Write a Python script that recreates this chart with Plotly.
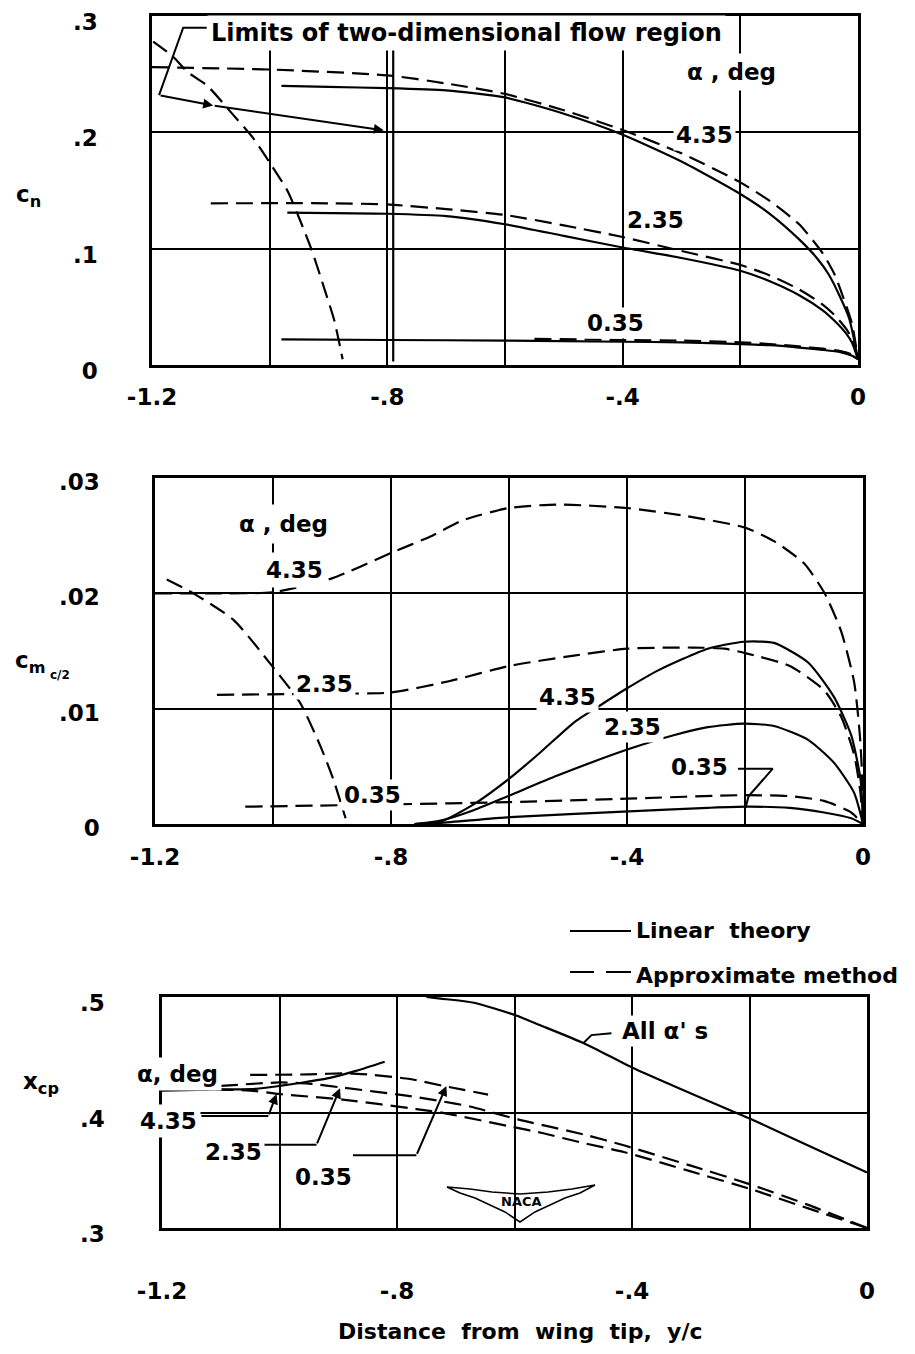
import plotly.graph_objects as go

# ---------------- data ----------------
# Panel 1: c_n vs y/c
cn_lin_435_x = [-0.98, -0.9, -0.8, -0.7, -0.6, -0.5, -0.4, -0.3, -0.2, -0.15, -0.1, -0.07, -0.05, -0.03, -0.015, 0.0]
cn_lin_435_y = [0.240, 0.239, 0.238, 0.236, 0.230, 0.216, 0.198, 0.175, 0.147, 0.130, 0.108, 0.092, 0.078, 0.058, 0.040, 0.005]
cn_app_435_x = [-1.2, -1.0, -0.8, -0.7, -0.6, -0.5, -0.4, -0.3, -0.2, -0.15, -0.1, -0.06, -0.04, -0.025, -0.01, 0.0]
cn_app_435_y = [0.256, 0.254, 0.249, 0.242, 0.233, 0.219, 0.202, 0.182, 0.157, 0.141, 0.121, 0.096, 0.078, 0.058, 0.035, 0.005]
cn_lin_235_x = [-0.97, -0.8, -0.7, -0.6, -0.5, -0.4, -0.3, -0.2, -0.15, -0.1, -0.06, -0.04, -0.02, -0.01, 0.0]
cn_lin_235_y = [0.131, 0.130, 0.128, 0.121, 0.111, 0.101, 0.092, 0.081, 0.072, 0.060, 0.047, 0.038, 0.027, 0.019, 0.005]
cn_app_235_x = [-1.1, -0.9, -0.8, -0.7, -0.6, -0.5, -0.4, -0.3, -0.2, -0.15, -0.1, -0.06, -0.04, -0.02, -0.01, 0.0]
cn_app_235_y = [0.139, 0.139, 0.138, 0.134, 0.129, 0.120, 0.110, 0.098, 0.086, 0.077, 0.065, 0.052, 0.043, 0.031, 0.022, 0.005]
cn_lin_035_x = [-0.98, -0.8, -0.6, -0.4, -0.3, -0.2, -0.15, -0.1, -0.06, -0.03, -0.01, 0.0]
cn_lin_035_y = [0.022, 0.0215, 0.021, 0.020, 0.0195, 0.018, 0.017, 0.015, 0.013, 0.011, 0.008, 0.005]
cn_app_035_x = [-0.55, -0.4, -0.3, -0.2, -0.15, -0.1, -0.06, -0.03, -0.01, 0.0]
cn_app_035_y = [0.0225, 0.0215, 0.021, 0.0195, 0.018, 0.016, 0.014, 0.012, 0.009, 0.005]
cn_limit_x = [-1.198, -1.164, -1.14, -1.106, -1.062, -1.028, -1.0, -0.97, -0.948, -0.928, -0.906, -0.89, -0.876]
cn_limit_y = [0.278, 0.265, 0.252, 0.240, 0.215, 0.195, 0.174, 0.150, 0.124, 0.098, 0.064, 0.038, 0.005]
cn_limit2_x = [-0.79, -0.79]
cn_limit2_y = [0.003, 0.275]

# Panel 2: c_m(c/2) vs y/c
cm_app_435_x = [-1.2, -1.1, -1.0, -0.9, -0.8, -0.73, -0.68, -0.6, -0.52, -0.4, -0.3, -0.2, -0.15, -0.1, -0.065, -0.037, -0.015, -0.005, -0.001, 0.0]
cm_app_435_y = [0.0200, 0.0200, 0.0201, 0.0213, 0.0235, 0.0250, 0.0263, 0.0274, 0.0277, 0.0274, 0.0267, 0.0257, 0.0245, 0.0226, 0.0200, 0.0167, 0.0123, 0.0075, 0.0035, 0.0]
cm_app_235_x = [-1.095, -0.9, -0.8, -0.7, -0.6, -0.49, -0.4, -0.29, -0.235, -0.198, -0.124, -0.066, -0.037, -0.015, -0.005, 0.0]
cm_app_235_y = [0.0112, 0.0113, 0.0114, 0.0124, 0.0137, 0.0146, 0.0152, 0.0153, 0.0152, 0.0148, 0.0137, 0.0116, 0.0093, 0.0060, 0.0030, 0.0]
cm_app_035_x = [-1.047, -0.8, -0.6, -0.4, -0.2, -0.12, -0.066, -0.02, 0.0]
cm_app_035_y = [0.0015, 0.0017, 0.0019, 0.0022, 0.0025, 0.0024, 0.0020, 0.0010, 0.0]
cm_lin_435_x = [-0.76, -0.716, -0.66, -0.598, -0.547, -0.49, -0.445, -0.402, -0.348, -0.263, -0.202, -0.151, -0.093, -0.049, -0.02, -0.004, 0.0]
cm_lin_435_y = [0.0, 0.0002, 0.0017, 0.0040, 0.0062, 0.0088, 0.0103, 0.0117, 0.0133, 0.0152, 0.0158, 0.0157, 0.0140, 0.0110, 0.0077, 0.0038, 0.0]
cm_lin_235_x = [-0.76, -0.716, -0.66, -0.598, -0.518, -0.397, -0.321, -0.263, -0.202, -0.151, -0.093, -0.049, -0.015, 0.0]
cm_lin_235_y = [0.0, 0.0003, 0.0012, 0.0025, 0.0042, 0.0065, 0.0077, 0.0084, 0.0087, 0.0085, 0.0073, 0.0053, 0.0027, 0.0]
cm_lin_035_x = [-0.76, -0.716, -0.598, -0.397, -0.263, -0.198, -0.124, -0.066, -0.02, 0.0]
cm_lin_035_y = [0.0, 0.0001, 0.0006, 0.0011, 0.0014, 0.0015, 0.0014, 0.0010, 0.0005, 0.0]
cm_limit_x = [-1.18, -1.135, -1.067, -1.0, -0.954, -0.92, -0.898, -0.877]
cm_limit_y = [0.0212, 0.0200, 0.0177, 0.0136, 0.0105, 0.0068, 0.0039, 0.0005]

# Panel 3: x_cp vs y/c
xcp_lin_all_x = [-0.75, -0.726, -0.669, -0.6, -0.556, -0.482, -0.4, -0.329, -0.233, -0.196, -0.103, 0.0]
xcp_lin_all_y = [0.500, 0.4986, 0.495, 0.4845, 0.4755, 0.460, 0.439, 0.423, 0.402, 0.394, 0.372, 0.348]
xcp_lin_tip_x = [-1.2, -1.1, -1.04, -1.0, -0.96, -0.914, -0.87, -0.821]
xcp_lin_tip_y = [0.419, 0.420, 0.4205, 0.423, 0.426, 0.430, 0.436, 0.444]
xcp_app_035_x = [-1.05, -0.95, -0.883, -0.84, -0.778, -0.721, -0.645]
xcp_app_035_y = [0.4325, 0.433, 0.434, 0.4325, 0.429, 0.423, 0.4155]
xcp_app_235_x = [-1.1, -1.0, -0.95, -0.892, -0.784, -0.727, -0.676, -0.594, -0.482, -0.414, -0.3, -0.2, -0.1, 0.0]
xcp_app_235_y = [0.423, 0.426, 0.425, 0.4215, 0.4146, 0.410, 0.4052, 0.394, 0.381, 0.3716, 0.354, 0.338, 0.320, 0.300]
xcp_app_435_x = [-1.15, -1.05, -1.0, -0.889, -0.767, -0.722, -0.608, -0.551, -0.482, -0.414, -0.3, -0.2, -0.1, 0.0]
xcp_app_435_y = [0.420, 0.419, 0.416, 0.411, 0.403, 0.3997, 0.388, 0.382, 0.3735, 0.3658, 0.349, 0.334, 0.317, 0.300]

# Tick values / labels
x_tickvals = [-1.2, -1.0, -0.8, -0.6, -0.4, -0.2, 0.0]
x_ticktext = ["-1.2", "", "-.8", "", "-.4", "", "0"]
cn_tickvals = [0, 0.1, 0.2, 0.3]
cn_ticktext = ["0", ".1", ".2", ".3"]
cm_tickvals = [0, 0.01, 0.02, 0.03]
cm_ticktext = ["0", ".01", ".02", ".03"]
xcp_tickvals = [0.3, 0.4, 0.5]
xcp_ticktext = [".3", ".4", ".5"]

# ---------------- figure ----------------
# The page body has an 8 px margin, so the figure is made 16 px smaller and
# screen positions are offset by 8 px.
OFF = 8
W, H = 915 - 2 * OFF, 1354 - 2 * OFF
FONT = "DejaVu Sans"
DASH = "17px,8px"


def P(px, py):
    return (px - OFF) / W, 1 - (py - OFF) / H


fig = go.Figure()


def add_line(x, y, ax, dashed=False, width=2.2):
    fig.add_trace(go.Scatter(
        x=x, y=y, mode="lines", xaxis="x" + ax, yaxis="y" + ax,
        line=dict(color="black", width=width, dash=DASH if dashed else "solid",
                  shape="spline", smoothing=0.6),
        hoverinfo="skip", showlegend=False))


# panel 1
add_line(cn_lin_435_x, cn_lin_435_y, "")
add_line(cn_app_435_x, cn_app_435_y, "", True)
add_line(cn_lin_235_x, cn_lin_235_y, "")
add_line(cn_app_235_x, cn_app_235_y, "", True)
add_line(cn_lin_035_x, cn_lin_035_y, "")
add_line(cn_app_035_x, cn_app_035_y, "", True)
add_line(cn_limit_x, cn_limit_y, "", True)
add_line(cn_limit2_x, cn_limit2_y, "")
# panel 2
add_line(cm_app_435_x, cm_app_435_y, "2", True)
add_line(cm_app_235_x, cm_app_235_y, "2", True)
add_line(cm_app_035_x, cm_app_035_y, "2", True)
add_line(cm_lin_435_x, cm_lin_435_y, "2")
add_line(cm_lin_235_x, cm_lin_235_y, "2")
add_line(cm_lin_035_x, cm_lin_035_y, "2")
add_line(cm_limit_x, cm_limit_y, "2", True)
# panel 3
add_line(xcp_lin_all_x, xcp_lin_all_y, "3")
add_line(xcp_lin_tip_x, xcp_lin_tip_y, "3")
add_line(xcp_app_035_x, xcp_app_035_y, "3", True)
add_line(xcp_app_235_x, xcp_app_235_y, "3", True)
add_line(xcp_app_435_x, xcp_app_435_y, "3", True)


# leader polylines (annotation guides, in data units of each panel)
def leader(xs, ys, ax):
    fig.add_trace(go.Scatter(x=xs, y=ys, mode="lines", xaxis="x" + ax, yaxis="y" + ax,
                             line=dict(color="black", width=2), hoverinfo="skip",
                             showlegend=False, cliponaxis=False))


leader([-1.107, -1.147, -1.188], [0.290, 0.290, 0.232], "")
leader([-0.212, -0.153, -0.194, -0.199], [0.0048, 0.0048, 0.0024, 0.0014], "2")
leader([-1.133, -1.019], [0.397, 0.397], "3")
leader([-1.028, -0.937], [0.372, 0.372], "3")
leader([-0.875, -0.767], [0.363, 0.363], "3")
leader([-0.483, -0.469, -0.435], [0.460, 0.467, 0.4686], "3")

axis_common = dict(showgrid=True, gridcolor="black", gridwidth=2, showline=True,
                   linecolor="black", linewidth=2.5, mirror=True, zeroline=False,
                   ticks="", fixedrange=True, automargin=False, ticklabeloverflow="allow",
                   tickfont=dict(family=FONT, size=23, color="black", weight="bold"))


def dx(a, b):
    return [(a - OFF) / W, (b - OFF) / W]


def dy(top, bot):
    return [1 - (bot - OFF) / H, 1 - (top - OFF) / H]


fig.update_layout(
    width=W, height=H, margin=dict(l=0, r=0, t=0, b=0, autoexpand=False),
    paper_bgcolor="white", plot_bgcolor="white", showlegend=False,
    xaxis=dict(domain=dx(152, 858), range=[-1.2, 0], tickvals=x_tickvals, ticktext=x_ticktext,
               anchor="y", ticklabelstandoff=10, **axis_common),
    yaxis=dict(domain=dy(16, 365), range=[0, 0.3], tickvals=cn_tickvals, ticktext=cn_ticktext,
               anchor="x", ticklabelstandoff=47, ticklabelshift=6, **axis_common),
    xaxis2=dict(domain=dx(155, 863), range=[-1.2, 0], tickvals=x_tickvals, ticktext=x_ticktext,
                anchor="y2", ticklabelstandoff=11, **axis_common),
    yaxis2=dict(domain=dy(478, 824), range=[0, 0.03], tickvals=cm_tickvals, ticktext=cm_ticktext,
                anchor="x2", ticklabelstandoff=48, ticklabelshift=4, **axis_common),
    xaxis3=dict(domain=dx(162, 867), range=[-1.2, 0], tickvals=x_tickvals, ticktext=x_ticktext,
                anchor="y3", ticklabelstandoff=41, **axis_common),
    yaxis3=dict(domain=dy(997, 1228), range=[0.3, 0.5], tickvals=xcp_tickvals, ticktext=xcp_ticktext,
                anchor="x3", ticklabelstandoff=50, ticklabelshift=6, **axis_common),
)

ann = []


def lab(text, px, py, size=23, bg=True, xanchor="center", pad=2):
    x, y = P(px, py)
    ann.append(dict(text=text, x=x, y=y, xref="paper", yref="paper", showarrow=False,
                    font=dict(family=FONT, size=size, color="black", weight="bold"),
                    bgcolor="white" if bg else "rgba(0,0,0,0)", xanchor=xanchor,
                    yanchor="middle", borderpad=pad))


def arrow(x, y, ax_, ay_, axis):
    ann.append(dict(x=x, y=y, ax=ax_, ay=ay_, xref="x" + axis, yref="y" + axis,
                    axref="x" + axis, ayref="y" + axis, text="", showarrow=True,
                    arrowhead=2, arrowsize=1, arrowwidth=2, arrowcolor="black", standoff=0))


# panel 1 texts
lab("Limits of two-dimensional flow region", 207, 33, size=24, xanchor="left", pad=3)
lab("α , deg", 731, 72, pad=5)
lab("4.35", 704, 135)
lab("2.35", 655, 220)
lab("0.35", 615, 323)
arrow(-1.096, 0.223, -1.188, 0.232, "")
arrow(-0.806, 0.2017, -1.096, 0.223, "")
# panel 2 texts
lab("α , deg", 283, 524, pad=6)
lab("4.35", 294, 570, pad=4)
lab("2.35", 324, 684)
lab("0.35", 372, 795)
lab("4.35", 567, 697)
lab("2.35", 632, 727)
lab("0.35", 699, 767)
# panel 3 texts
lab("α, deg", 177, 1074, pad=3)
lab("4.35", 168, 1121, pad=3)
lab("2.35", 233, 1152)
lab("0.35", 323, 1177)
lab("All α' s", 665, 1031)
arrow(-1.005, 0.416, -1.019, 0.397, "3")
arrow(-0.897, 0.421, -0.937, 0.372, "3")
arrow(-0.716, 0.423, -0.767, 0.363, "3")
# legend
lab("Linear\u00a0 theory", 633, 930, size=22, xanchor="left", bg=False)
lab("Approximate method", 633, 975, size=22, xanchor="left", bg=False)
# axis titles
lab("c<sub>n</sub>", 28, 196, bg=False)
lab("c<sub>m</sub>", 30, 662, bg=False)
lab("c/2", 60, 675, size=12, bg=False)
lab("x<sub>cp</sub>", 41, 1083, bg=False)
lab("Distance\u00a0 from\u00a0 wing\u00a0 tip,\u00a0 y/c", 520, 1331, size=22, bg=False)
# NACA logo text
lab("NACA", 521, 1201, size=13, bg=False)

fig.update_layout(annotations=ann)

# legend samples and NACA wing logo (decoration, paper coordinates)
shapes = []
x0, y0 = P(570, 931)
x1, _ = P(631, 931)
shapes.append(dict(type="line", xref="paper", yref="paper", x0=x0, y0=y0, x1=x1, y1=y0,
                   line=dict(color="black", width=2)))
for a, b in [(570, 594), (606, 631)]:
    xa, ya = P(a, 972)
    xb, _ = P(b, 972)
    shapes.append(dict(type="line", xref="paper", yref="paper", x0=xa, y0=ya, x1=xb, y1=ya,
                       line=dict(color="black", width=2)))
wing = [(447, 1187), (470, 1189), (492, 1192), (520, 1194), (548, 1192), (572, 1189), (595, 1185),
        (580, 1193), (565, 1198), (550, 1205), (535, 1212), (520, 1222), (505, 1212), (490, 1205),
        (475, 1198), (460, 1193)]
path = "M " + " L ".join("%.5f,%.5f" % P(a, b) for a, b in wing) + " Z"
shapes.append(dict(type="path", xref="paper", yref="paper", path=path,
                   line=dict(color="black", width=1.5), fillcolor="white", layer="below"))
fig.update_layout(shapes=shapes)

fig.write_html("out.html")
